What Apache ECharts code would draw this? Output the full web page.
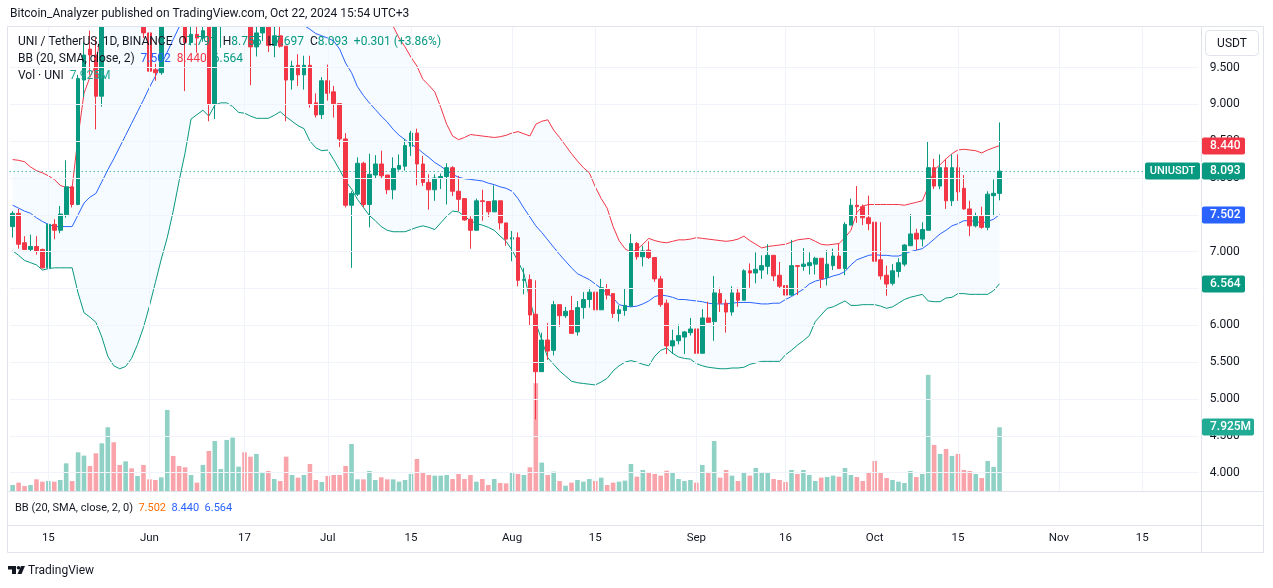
<!DOCTYPE html>
<html><head><meta charset="utf-8">
<script src="https://cdn.jsdelivr.net/npm/echarts@6/dist/echarts.min.js"></script>
<style>html,body{margin:0;padding:0;background:#fff;}#c{width:1273px;height:588px;}</style>
</head><body><div id="c"></div>
<script>
// ---- data (UNI/USDT daily, from 2024-05-09) ----
const startDate = '2024-05-09';
const slotCount = 200;
const tickDates = ['2024-05-15','2024-06-01','2024-06-17','2024-07-01','2024-07-15','2024-08-01','2024-08-15','2024-09-01','2024-09-16','2024-10-01','2024-10-15','2024-11-01','2024-11-15'];
const tickTexts = ['15','Jun','17','Jul','15','Aug','15','Sep','16','Oct','15','Nov','15'];
const priceTicks = [4,4.5,5,5.5,6,6.5,7,7.5,8,8.5,9,9.5];

const open = [7.34,7.52,7.12,7.03,7.07,7.03,6.78,7.37,7.29,7.50,7.88,7.64,9.33,9.75,9.67,9.11,10.45,10.65,10.45,10.35,10.70,10.40,10.50,9.97,9.47,9.43,10.30,10.60,10.30,10.15,9.84,9.95,9.90,10.10,9.00,10.40,10.55,10.70,10.85,10.90,10.40,9.78,9.97,10.15,9.80,9.93,9.79,9.33,9.53,9.40,9.53,9.02,8.86,9.32,9.17,9.01,8.53,7.63,7.78,8.20,7.64,8.04,8.19,8.04,7.84,8.12,8.16,8.43,8.61,8.19,7.94,7.84,8.00,8.02,8.14,7.82,7.72,7.44,7.29,7.69,7.68,7.54,7.69,7.39,7.17,7.19,6.61,6.62,6.15,5.37,5.80,5.66,6.28,6.13,6.20,5.91,6.24,6.35,6.45,6.21,6.50,6.43,6.16,6.20,6.26,7.11,6.93,7.02,6.92,6.63,6.30,5.72,5.79,5.84,5.90,5.95,5.62,6.10,6.05,6.43,6.30,6.18,6.44,6.34,6.74,6.71,6.75,6.80,6.95,6.68,6.54,6.41,6.81,6.80,6.81,6.83,6.91,6.65,6.81,6.94,6.77,7.36,7.63,7.61,7.46,7.40,6.89,6.68,6.57,6.73,6.83,7.08,7.25,7.17,7.29,8.14,7.89,8.14,7.69,8.14,7.86,7.58,7.35,7.48,7.33,7.76,7.791];
const high = [7.55,7.58,7.21,7.23,7.21,7.04,7.45,7.44,7.62,8.24,7.88,9.40,9.85,10.00,9.90,10.60,10.80,10.90,11.20,10.90,10.90,10.70,10.60,10.00,9.55,10.40,10.70,10.80,10.45,10.40,10.10,10.05,10.10,10.15,10.60,10.70,10.90,11.00,11.10,11.00,10.50,10.20,10.30,10.25,10.10,10.10,9.79,9.59,9.68,9.66,9.66,9.15,9.37,9.54,9.25,9.01,8.61,7.82,8.28,8.22,8.33,8.31,8.37,8.04,8.28,8.32,8.53,8.64,8.67,8.30,8.05,8.05,8.06,8.20,8.16,8.03,7.72,7.48,7.72,7.84,7.68,7.90,7.69,7.39,7.28,7.26,6.78,6.69,6.61,5.90,6.03,6.33,6.28,6.25,6.40,6.33,6.45,6.51,6.45,6.63,6.56,6.43,6.27,6.50,7.24,7.13,7.08,7.14,6.92,6.67,6.35,5.94,6.01,5.92,6.10,5.97,6.22,6.32,6.67,6.51,6.35,6.53,6.51,6.76,6.84,6.99,6.95,7.10,6.95,6.86,6.57,7.16,6.81,7.05,6.99,6.93,6.91,7.02,7.04,7.11,7.40,7.72,7.89,7.64,7.76,7.87,7.40,6.81,6.83,6.91,7.10,7.51,7.31,7.40,8.50,8.26,8.32,8.26,8.32,8.32,8.04,7.69,7.53,7.61,7.82,7.98,8.755];
const low = [7.19,7.04,7.03,7.00,6.96,6.77,6.75,7.17,7.25,7.46,7.60,7.63,9.10,9.40,8.66,8.97,10.30,10.30,10.20,10.20,10.30,10.20,9.90,9.32,9.32,9.40,10.15,10.20,10.10,9.18,9.80,9.70,9.85,8.77,8.80,9.77,10.40,10.50,10.60,10.30,9.26,9.65,9.86,9.71,9.64,9.77,8.77,9.20,9.25,9.20,8.955,8.82,8.80,9.05,8.82,8.42,7.60,6.78,7.755,7.60,7.33,8.00,8.00,7.78,7.71,8.10,8.10,8.30,7.90,7.89,7.57,7.69,7.85,7.64,7.755,7.55,7.42,7.04,7.29,7.42,7.47,7.54,7.30,7.08,6.87,6.53,6.42,5.99,4.72,5.37,5.53,5.59,5.98,6.10,5.89,5.86,6.09,6.24,6.09,6.21,6.35,6.10,6.05,6.13,6.26,6.89,6.80,6.90,6.59,6.25,5.61,5.61,5.74,5.61,5.86,5.56,5.62,6.04,5.79,6.18,5.90,6.13,6.25,6.34,6.51,6.57,6.63,6.69,6.60,6.50,6.32,6.40,6.41,6.74,6.69,6.69,6.50,6.54,6.75,6.77,6.68,7.36,7.39,7.36,7.29,6.78,6.62,6.40,6.54,6.65,6.80,7.08,7.02,7.07,7.29,7.85,7.85,7.58,7.62,7.69,7.57,7.21,7.33,7.31,7.29,7.48,7.697];
const close = [7.52,7.10,7.03,7.07,7.01,6.78,7.37,7.29,7.51,7.88,7.64,9.35,9.67,9.67,9.11,10.45,10.65,10.45,10.35,10.70,10.40,10.50,9.97,9.45,9.43,10.30,10.60,10.30,10.15,9.84,9.95,9.90,10.00,9.00,10.40,10.55,10.70,10.85,10.90,10.40,9.78,9.97,10.15,9.80,9.93,9.79,9.33,9.52,9.40,9.53,9.00,8.855,9.32,9.15,9.01,8.53,7.63,7.79,8.20,7.64,8.05,8.19,8.03,7.84,8.13,8.17,8.44,8.61,8.19,7.94,7.84,8.00,8.02,8.14,7.82,7.71,7.43,7.29,7.69,7.68,7.54,7.69,7.39,7.17,7.19,6.61,6.62,6.14,5.37,5.80,5.65,6.28,6.13,6.19,5.89,6.24,6.35,6.45,6.21,6.51,6.41,6.16,6.21,6.27,7.11,6.93,7.01,6.92,6.63,6.28,5.72,5.79,5.86,5.91,5.95,5.62,6.10,6.04,6.44,6.30,6.18,6.44,6.34,6.74,6.71,6.76,6.81,6.95,6.67,6.53,6.41,6.81,6.80,6.83,6.85,6.91,6.63,6.83,6.94,6.77,7.37,7.63,7.61,7.46,7.38,6.87,6.67,6.56,6.74,6.85,7.09,7.24,7.17,7.30,8.14,7.89,8.14,7.69,8.14,7.81,7.58,7.35,7.48,7.33,7.78,7.792,8.093];
const volumeM = [0.75,1.04,0.62,0.75,1.45,1.16,1.24,1.16,1.37,3.44,1.24,4.81,4.40,3.11,4.69,5.93,7.93,6.06,3.24,3.69,2.82,1.87,3.24,1.45,1.37,1.70,10.08,4.36,3.11,2.95,1.99,1.04,3.24,4.98,6.22,2.74,6.35,6.64,3.03,4.81,4.27,4.61,2.28,2.49,1.49,1.24,4.27,1.99,1.66,1.99,3.36,1.37,1.12,1.87,1.99,1.99,3.11,5.85,1.45,1.45,2.49,1.37,1.70,1.45,1.45,1.16,1.37,2.12,3.98,2.37,1.99,1.91,1.91,1.99,1.49,2.12,1.49,1.99,1.16,1.49,0.75,1.49,1.00,0.95,2.28,2.12,1.99,2.95,13.40,3.53,1.99,2.41,1.24,0.66,1.04,1.37,1.16,1.49,1.24,1.66,0.75,1.04,1.16,1.29,3.36,1.78,2.61,2.28,2.12,1.91,2.53,2.32,1.49,1.24,1.37,1.04,3.24,2.37,6.22,1.66,2.61,1.91,1.24,2.24,1.91,2.86,2.24,2.24,1.49,1.37,1.12,2.61,2.12,2.61,1.99,1.24,1.66,1.74,1.91,1.78,2.86,1.99,1.74,1.24,2.37,3.73,2.37,1.62,1.37,1.16,1.00,2.49,1.74,2.12,14.44,5.73,4.61,5.23,4.36,4.61,2.61,2.49,2.12,1.62,3.73,2.99,7.925];
const bbUpper = [8.25,8.24,8.22,8.15,8.10,8.07,8.03,7.98,7.90,7.87,7.87,8.56,9.15,9.37,9.54,10.06,10.64,11.07,11.43,11.72,11.93,12.06,12.15,12.20,12.18,12.18,12.23,12.23,12.14,12.06,11.80,11.84,11.88,11.96,11.81,11.78,11.78,11.79,11.81,11.78,11.76,11.75,11.71,11.67,11.59,11.50,11.51,11.49,11.49,11.47,11.54,11.51,11.49,11.42,11.47,11.39,11.16,11.01,10.77,10.64,10.55,10.44,10.34,10.23,10.06,9.90,9.78,9.64,9.52,9.34,9.26,9.17,8.96,8.73,8.57,8.52,8.55,8.59,8.58,8.57,8.56,8.55,8.56,8.58,8.61,8.63,8.60,8.57,8.73,8.77,8.79,8.65,8.55,8.44,8.33,8.23,8.14,8.07,7.88,7.72,7.59,7.34,7.15,7.04,6.99,7.03,7.10,7.18,7.15,7.13,7.12,7.14,7.16,7.16,7.17,7.19,7.18,7.17,7.16,7.15,7.14,7.15,7.17,7.21,7.15,7.10,7.05,7.07,7.08,7.09,7.10,7.13,7.16,7.17,7.18,7.14,7.10,7.09,7.10,7.11,7.19,7.29,7.53,7.62,7.64,7.64,7.64,7.64,7.64,7.64,7.63,7.65,7.67,7.69,7.88,8.11,8.18,8.26,8.33,8.38,8.39,8.38,8.37,8.34,8.38,8.41,8.44];
const bbBasis = [7.63,7.59,7.55,7.52,7.46,7.41,7.37,7.34,7.34,7.34,7.34,7.50,7.66,7.74,7.79,7.95,8.11,8.26,8.42,8.58,8.74,8.90,9.06,9.23,9.38,9.54,9.71,9.88,10.05,10.20,10.30,10.35,10.40,10.40,10.40,10.40,10.40,10.38,10.35,10.33,10.30,10.28,10.26,10.24,10.22,10.20,10.17,10.13,10.10,10.07,10.02,9.96,9.93,9.90,9.86,9.75,9.56,9.43,9.24,9.12,9.02,8.93,8.84,8.76,8.66,8.58,8.52,8.46,8.41,8.34,8.28,8.21,8.16,8.10,8.05,8.01,7.99,7.98,7.97,7.96,7.93,7.91,7.88,7.86,7.82,7.72,7.59,7.47,7.35,7.26,7.16,7.06,6.96,6.87,6.78,6.70,6.66,6.62,6.56,6.50,6.44,6.37,6.28,6.26,6.25,6.26,6.29,6.33,6.39,6.41,6.40,6.38,6.35,6.35,6.34,6.33,6.32,6.30,6.29,6.29,6.29,6.30,6.31,6.31,6.31,6.30,6.29,6.29,6.30,6.30,6.35,6.39,6.44,6.49,6.56,6.60,6.62,6.64,6.67,6.69,6.73,6.82,6.89,6.92,6.95,6.96,6.95,6.95,6.94,6.94,6.97,7.00,7.02,7.04,7.10,7.17,7.24,7.29,7.35,7.38,7.42,7.42,7.41,7.39,7.41,7.44,7.502];
const bbLower = [7.01,6.95,6.88,6.85,6.82,6.75,6.77,6.78,6.78,6.78,6.78,6.44,6.17,6.11,6.04,5.84,5.58,5.45,5.41,5.44,5.55,5.74,5.97,6.26,6.58,6.90,7.19,7.55,7.96,8.34,8.80,8.86,8.92,8.84,8.99,9.02,9.02,8.97,8.89,8.88,8.84,8.81,8.81,8.81,8.85,8.90,8.83,8.77,8.71,8.67,8.50,8.41,8.37,8.38,8.25,8.11,7.96,7.85,7.71,7.60,7.49,7.42,7.34,7.29,7.27,7.27,7.27,7.30,7.33,7.35,7.33,7.30,7.39,7.48,7.55,7.54,7.48,7.42,7.38,7.36,7.33,7.29,7.21,7.14,7.02,6.87,6.70,6.35,6.03,5.80,5.56,5.47,5.38,5.31,5.24,5.22,5.21,5.20,5.19,5.23,5.28,5.38,5.45,5.50,5.52,5.50,5.47,5.45,5.58,5.66,5.69,5.62,5.57,5.55,5.54,5.48,5.45,5.43,5.42,5.41,5.41,5.42,5.42,5.43,5.47,5.49,5.51,5.51,5.51,5.51,5.60,5.66,5.73,5.79,5.86,6.05,6.14,6.23,6.25,6.29,6.33,6.27,6.27,6.28,6.28,6.28,6.26,6.23,6.25,6.30,6.35,6.38,6.40,6.42,6.33,6.32,6.32,6.37,6.38,6.43,6.43,6.42,6.42,6.42,6.42,6.47,6.564];

// ---- styling ----
const UP = '#089981', DOWN = '#F23645', BLUE = '#2962FF', TXT = '#131722', GRID = '#f0f3fa', BORDER = '#e0e3eb';
const FONT = 'Roboto, "Liberation Sans", sans-serif';

const dates = [];
const t0 = Date.parse(startDate + 'T00:00:00Z');
for (let i = 0; i < slotCount; i++) dates.push(new Date(t0 + i * 86400000).toISOString().slice(0, 10));

const candles = open.map((o, i) => [o, close[i], low[i], high[i]]);
const vols = volumeM.map((v, i) => ({ value: v, itemStyle: { color: close[i] >= open[i] ? 'rgba(8,153,129,0.45)' : 'rgba(242,54,69,0.45)' } }));
const bandWidth = bbUpper.map((u, i) => +(u - bbLower[i]).toFixed(4));
const last = close.length - 1;

const chart = echarts.init(document.getElementById('c'), null, { renderer: 'canvas' });

const gridMarks = priceTicks.map(v => ({ yAxis: v })).concat(tickDates.map(d => ({ xAxis: d })));

chart.setOption({
  animation: false,
  backgroundColor: '#ffffff',
  grid: { left: 9.7, top: 27, width: 1189, height: 464, containLabel: false },
  xAxis: {
    type: 'category', data: dates, boundaryGap: true,
    axisLine: { show: false }, axisTick: { show: false }, splitLine: { show: false },
    axisLabel: {
      interval: (idx, val) => tickDates.indexOf(val) >= 0,
      formatter: val => { const k = tickDates.indexOf(val); return k >= 0 ? tickTexts[k] : ''; },
      margin: 41, color: TXT, fontSize: 11.5, fontFamily: FONT
    }
  },
  yAxis: [
    {
      type: 'value', position: 'right', min: 3.75, max: 10.05, interval: 0.25,
      axisLine: { show: false }, axisTick: { show: false }, splitLine: { show: false },
      axisLabel: {
        formatter: v => (Math.abs(v * 2 - Math.round(v * 2)) < 1e-6 && v >= 3.99 && v <= 9.51) ? v.toFixed(3) : '',
        margin: 11, color: TXT, fontSize: 12, fontFamily: FONT
      }
    },
    { type: 'value', min: 0, max: 57.7, show: false }
  ],
  series: [
    {
      name: 'grid', type: 'line', data: [], z: 0, silent: true,
      markLine: { silent: true, symbol: ['none', 'none'], label: { show: false },
        lineStyle: { color: GRID, width: 1, type: 'solid' }, data: gridMarks }
    },
    { name: 'bbBase', type: 'line', stack: 'bb', data: bbLower, symbol: 'none', lineStyle: { opacity: 0 }, z: 1, silent: true, clip: true },
    { name: 'bbFill', type: 'line', stack: 'bb', data: bandWidth, symbol: 'none', lineStyle: { opacity: 0 },
      areaStyle: { color: 'rgba(33,150,243,0.055)' }, z: 1, silent: true, clip: true },
    { name: 'Volume', type: 'bar', yAxisIndex: 1, data: vols, barWidth: 4.6, z: 2 },
    { name: 'Upper', type: 'line', data: bbUpper, symbol: 'none', lineStyle: { color: DOWN, width: 1 }, z: 3, clip: true },
    { name: 'Basis', type: 'line', data: bbBasis, symbol: 'none', lineStyle: { color: BLUE, width: 1 }, z: 3, clip: true },
    { name: 'Lower', type: 'line', data: bbLower, symbol: 'none', lineStyle: { color: UP, width: 1 }, z: 3, clip: true },
    {
      name: 'UNIUSDT', type: 'candlestick', data: candles, barWidth: 4.2, z: 4, clip: true,
      itemStyle: { color: UP, color0: DOWN, borderColor: UP, borderColor0: DOWN, borderWidth: 1 },
      markLine: { silent: true, symbol: ['none', 'none'], label: { show: false },
        lineStyle: { color: UP, width: 1, type: [1, 3] }, data: [{ yAxis: close[last] }] }
    }
  ]
});

const py = v => chart.convertToPixel({ yAxisIndex: 0 }, v);
const vy = v => chart.convertToPixel({ yAxisIndex: 1 }, v);

function tag(y, text, color, x, w) {
  return [
    { type: 'rect', shape: { x: x, y: Math.round(y) - 8.5, width: w, height: 17, r: 2 }, style: { fill: color }, z: 50 },
    { type: 'text', x: 1210, y: Math.round(y), style: { text: text, fill: '#fff', font: '500 12px ' + FONT, verticalAlign: 'middle', textAlign: 'left' }, z: 51 }
  ];
}

const g = [];
// white band above the plot (keeps clipped area clean)
g.push({ type: 'rect', shape: { x: 0, y: 0, width: 1273, height: 26 }, style: { fill: '#fff' }, z: 39 });
// frame and pane separators
g.push({ type: 'rect', shape: { x: 7.5, y: 26.5, width: 1256, height: 526 }, style: { fill: 'none', stroke: BORDER, lineWidth: 1 }, z: 40 });
g.push({ type: 'line', shape: { x1: 7.5, y1: 491.5, x2: 1263.5, y2: 491.5 }, style: { stroke: BORDER, lineWidth: 1 }, z: 40 });
g.push({ type: 'line', shape: { x1: 7.5, y1: 525.5, x2: 1263.5, y2: 525.5 }, style: { stroke: BORDER, lineWidth: 1 }, z: 40 });
g.push({ type: 'line', shape: { x1: 1201.5, y1: 26.5, x2: 1201.5, y2: 552.5 }, style: { stroke: BORDER, lineWidth: 1 }, z: 40 });
// header
g.push({ type: 'text', x: 10, y: 14, style: { text: 'Bitcoin_Analyzer published on TradingView.com, Oct 22, 2024 15:54 UTC+3', fill: TXT, font: '12px ' + FONT, verticalAlign: 'middle' }, z: 60 });
// legends
const f2 = v => v.toFixed(3);
const chg = close[last] - close[last - 1];
g.push({ type: 'text', x: 18, y: 42, z: 60, style: {
  text: '{d|UNI / TetherUS, 1D, BINANCE}  {d|O}{g|' + f2(open[last]) + '}  {d|H}{g|' + f2(high[last]) + '}  {d|L}{g|' + f2(low[last]) + '}  {d|C}{g|' + f2(close[last]) + '}  {g|+' + chg.toFixed(3) + ' (+' + (chg / close[last - 1] * 100).toFixed(2) + '%)}',
  font: '12px ' + FONT, verticalAlign: 'middle',
  rich: { d: { fill: TXT, font: '12px ' + FONT }, g: { fill: UP, font: '12px ' + FONT } } } });
g.push({ type: 'text', x: 18, y: 59, z: 60, style: {
  text: '{d|BB (20, SMA, close, 2)}  {b|' + f2(bbBasis[last]) + '}  {r|' + f2(bbUpper[last]) + '}  {g|' + f2(bbLower[last]) + '}',
  font: '12px ' + FONT, verticalAlign: 'middle',
  rich: { d: { fill: TXT, font: '12px ' + FONT }, b: { fill: BLUE, font: '12px ' + FONT }, r: { fill: DOWN, font: '12px ' + FONT }, g: { fill: UP, font: '12px ' + FONT } } } });
g.push({ type: 'text', x: 18, y: 76, z: 60, style: {
  text: '{d|Vol · UNI}  {g|' + volumeM[last].toFixed(3) + 'M}',
  font: '12px ' + FONT, verticalAlign: 'middle',
  rich: { d: { fill: TXT, font: '12px ' + FONT }, g: { fill: '#22ab94', font: '12px ' + FONT } } } });
// lower pane legend
g.push({ type: 'text', x: 15, y: 508, z: 60, style: {
  text: '{d|BB (20, SMA, close, 2, 0)}  {o|' + f2(bbBasis[last]) + '}  {b|' + f2(bbUpper[last]) + '}  {b|' + f2(bbLower[last]) + '}',
  font: '11px ' + FONT, verticalAlign: 'middle',
  rich: { d: { fill: TXT, font: '11px ' + FONT }, o: { fill: '#FF6D00', font: '11px ' + FONT }, b: { fill: BLUE, font: '11px ' + FONT } } } });
// USDT box
g.push({ type: 'rect', shape: { x: 1205.5, y: 30.5, width: 53, height: 25, r: 4 }, style: { fill: '#fff', stroke: BORDER, lineWidth: 1 }, z: 55 });
g.push({ type: 'text', x: 1232, y: 43.5, style: { text: 'USDT', fill: TXT, font: '12px ' + FONT, textAlign: 'center', verticalAlign: 'middle' }, z: 56 });
// price tags
g.push(...tag(py(bbUpper[last]), f2(bbUpper[last]), DOWN, 1202, 43));
g.push(...tag(py(close[last]), f2(close[last]), UP, 1202, 43));
g.push(...tag(py(bbBasis[last]), f2(bbBasis[last]), BLUE, 1202, 43));
g.push(...tag(py(bbLower[last]), f2(bbLower[last]), UP, 1202, 43));
g.push(...tag(vy(volumeM[last]), volumeM[last].toFixed(3) + 'M', '#22ab94', 1202, 52));
const yc = Math.round(py(close[last]));
g.push({ type: 'rect', shape: { x: 1145, y: yc - 8.5, width: 55, height: 17, r: 2 }, style: { fill: UP }, z: 50 });
g.push({ type: 'text', x: 1172.5, y: yc, style: { text: 'UNIUSDT', fill: '#fff', font: '500 11px ' + FONT, textAlign: 'center', verticalAlign: 'middle' }, z: 51 });
// TradingView logo
g.push({ type: 'polygon', shape: { points: [[8, 566], [16, 566], [16, 574], [12, 574], [12, 569.5], [8, 569.5]] }, style: { fill: TXT }, z: 60 });
g.push({ type: 'circle', shape: { cx: 18.5, cy: 567.8, r: 1.8 }, style: { fill: TXT }, z: 60 });
g.push({ type: 'polygon', shape: { points: [[21, 566], [25, 566], [21.5, 574], [17.5, 574]] }, style: { fill: TXT }, z: 60 });
g.push({ type: 'text', x: 28, y: 570.5, style: { text: 'TradingView', fill: TXT, font: '12px ' + FONT, verticalAlign: 'middle' }, z: 60 });

chart.setOption({ graphic: g });
</script></body></html>
